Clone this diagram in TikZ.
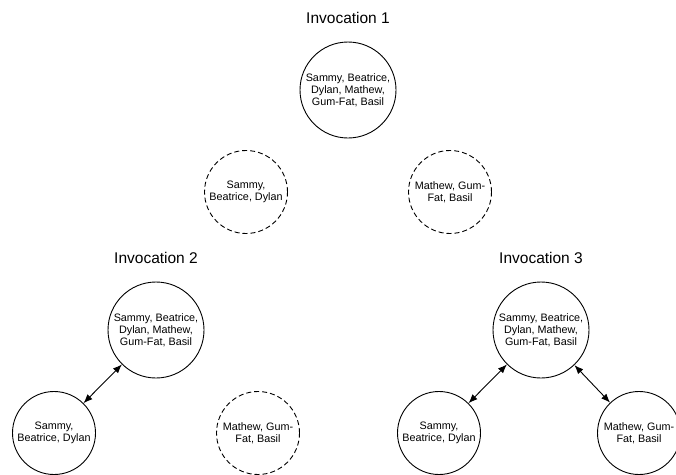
\documentclass[tikz,border=0pt]{standalone}
\usepackage{fontspec}
\setmainfont{Liberation Sans}
\usetikzlibrary{arrows.meta}

\tikzset{
  setnode/.style={circle, draw=black, line width=0.9pt, inner sep=0pt,
    minimum size=#1, align=center,
    font=\fontsize{10.8}{11.8}\selectfont},
  bigset/.style={setnode=96pt},
  smallset/.style={setnode=83pt},
  hiddenset/.style={smallset, dash pattern=on 5pt off 3pt},
  title/.style={font=\fontsize{15.5}{18}\selectfont, inner sep=0pt},
  link/.style={line width=0.9pt,
    {Latex[length=9pt,width=7pt]}-{Latex[length=9pt,width=7pt]}}
}

\begin{document}
\begin{tikzpicture}[x=1pt, y=-1pt]
  \useasboundingbox (0,0) rectangle (676,474);

  % first invocation: full list, split halves not yet active
  \node[title] (t1) at (348,18) {Invocation 1};
  \node[bigset] (c1) at (348,90) {Sammy, Beatrice,\\Dylan, Mathew,\\Gum-Fat, Basil};
  \node[hiddenset] (d1) at (246,192) {Sammy,\\Beatrice, Dylan};
  \node[hiddenset] (d2) at (450,192) {Mathew, Gum-\\Fat, Basil};

  % second invocation: left half active
  \node[title] (t2) at (156,258) {Invocation 2};
  \node[bigset] (c2) at (156,330) {Sammy, Beatrice,\\Dylan, Mathew,\\Gum-Fat, Basil};
  \node[smallset] (l2) at (54,433) {Sammy,\\Beatrice, Dylan};
  \node[hiddenset] (r2) at (258,433) {Mathew, Gum-\\Fat, Basil};
  \draw[link] (l2) -- (c2);

  % third invocation: both halves active
  \node[title] (t3) at (541,258) {Invocation 3};
  \node[bigset] (c3) at (541,330) {Sammy, Beatrice,\\Dylan, Mathew,\\Gum-Fat, Basil};
  \node[smallset] (l3) at (439,433) {Sammy,\\Beatrice, Dylan};
  \node[smallset] (r3) at (639,433) {Mathew, Gum-\\Fat, Basil};
  \draw[link] (l3) -- (c3);
  \draw[link] (c3) -- (r3);
\end{tikzpicture}
\end{document}
